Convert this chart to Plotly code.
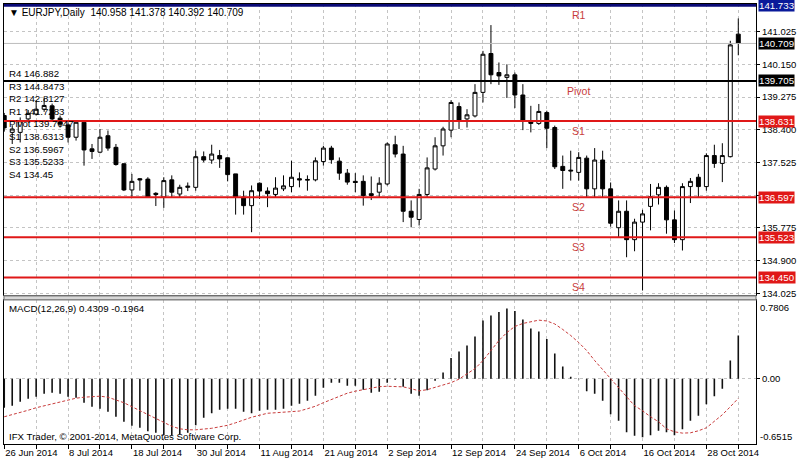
import plotly.graph_objects as go
import pandas as pd

# ---------------- data ----------------
dates = pd.bdate_range("2014-06-26", "2014-11-03")
date_keys = [d.strftime("%Y-%m-%d") for d in dates]

opens = [138.78, 138.33, 138.33, 138.69, 138.82, 138.95, 139.04, 138.71, 138.53, 138.20,
         138.60, 137.89, 137.80, 138.24, 137.93, 137.49, 136.79, 137.09, 137.08, 136.70,
         136.60, 137.06, 136.68, 136.86, 136.86, 137.68, 137.59, 137.71, 137.65, 137.22,
         136.60, 136.37, 136.97, 136.76, 136.67, 136.82, 136.88, 137.09, 137.05, 137.06,
         137.55, 137.91, 137.56, 137.24, 137.02, 137.02, 136.69, 136.73, 136.95, 138.00,
         137.75, 136.22, 136.00, 136.67, 137.35, 137.97, 138.39, 139.02, 138.69, 138.77,
         139.40, 140.44, 139.93, 139.80, 139.87, 139.33, 138.64, 138.57, 138.86, 138.46,
         137.42, 137.32, 137.26, 137.64, 136.82, 137.59, 136.82, 135.78, 136.22, 135.46,
         135.93, 136.35, 136.66, 136.86, 135.99, 135.46, 136.88, 137.13, 136.88, 137.71,
         137.50, 137.68, 140.958]
highs = [138.85, 138.52, 138.73, 138.93, 139.18, 139.25, 139.10, 138.78, 138.60, 138.66,
         138.62, 138.02, 138.42, 138.38, 138.02, 137.50, 137.22, 137.11, 137.13, 136.73,
         137.13, 137.18, 136.93, 136.99, 137.84, 137.82, 138.00, 137.86, 137.66, 137.22,
         136.77, 136.91, 136.99, 136.86, 137.13, 137.18, 137.57, 137.26, 137.18, 137.66,
         137.97, 137.97, 137.66, 137.35, 137.24, 137.18, 137.15, 137.13, 138.06, 138.24,
         137.97, 136.51, 136.82, 137.66, 138.20, 138.48, 139.19, 139.13, 138.95, 139.62,
         140.51, 141.20, 140.20, 140.15, 139.93, 139.62, 139.04, 139.09, 138.91, 138.51,
         137.71, 137.84, 137.80, 137.71, 137.91, 137.84, 136.99, 136.51, 136.51, 136.02,
         136.26, 136.95, 136.97, 136.91, 136.24, 136.97, 137.11, 137.22, 137.77, 138.00,
         138.04, 140.78, 141.378]
lows = [138.35, 138.02, 138.06, 138.60, 138.78, 138.88, 138.64, 138.46, 138.06, 138.11,
        137.44, 137.62, 137.77, 137.84, 137.44, 136.76, 136.61, 136.77, 136.58, 136.36,
        136.31, 136.60, 136.60, 136.76, 136.77, 137.53, 137.49, 137.38, 137.02, 136.13,
        136.13, 135.66, 136.55, 136.33, 136.60, 136.76, 136.73, 136.86, 136.77, 137.02,
        137.44, 137.49, 137.06, 136.93, 136.73, 136.37, 136.52, 136.60, 136.91, 137.66,
        135.93, 135.79, 135.84, 136.60, 137.31, 137.71, 138.20, 138.42, 138.46, 138.73,
        139.13, 139.62, 139.60, 139.25, 138.98, 138.39, 138.33, 138.53, 137.91, 137.35,
        136.82, 137.04, 137.04, 136.58, 136.60, 136.60, 135.81, 135.51, 134.99, 135.15,
        134.10, 135.71, 136.40, 135.62, 135.37, 135.17, 136.44, 136.58, 136.77, 137.38,
        137.00, 137.66, 140.392]
closes = [138.45, 138.42, 138.64, 138.84, 138.95, 139.05, 138.69, 138.55, 138.20, 138.60,
          137.86, 137.82, 138.20, 137.91, 137.47, 136.79, 137.02, 137.06, 136.60, 136.67,
          137.04, 136.73, 136.86, 136.89, 137.68, 137.59, 137.75, 137.62, 137.20, 136.60,
          136.37, 136.77, 136.76, 136.69, 136.84, 136.90, 137.13, 137.06, 137.07, 137.57,
          137.91, 137.60, 137.24, 137.00, 136.99, 136.64, 136.64, 136.97, 138.02, 137.75,
          136.22, 136.06, 136.67, 137.38, 137.97, 138.42, 139.13, 138.64, 138.80, 139.40,
          140.42, 139.87, 139.84, 139.87, 139.33, 138.66, 138.57, 138.89, 138.44, 137.41,
          137.31, 137.30, 137.66, 136.82, 137.59, 136.82, 135.90, 136.22, 135.46, 135.93,
          136.15, 136.61, 136.86, 135.99, 135.46, 136.88, 137.02, 136.88, 137.71, 137.50,
          137.71, 140.67, 140.709]

macd = [-0.29, -0.27, -0.23, -0.20, -0.18, -0.15, -0.14, -0.15, -0.18, -0.19,
        -0.24, -0.28, -0.30, -0.33, -0.38, -0.43, -0.47, -0.49, -0.525, -0.54,
        -0.565, -0.565, -0.555, -0.54, -0.465, -0.39, -0.345, -0.31, -0.30, -0.30,
        -0.33, -0.345, -0.32, -0.31, -0.31, -0.30, -0.27, -0.25, -0.22, -0.17,
        -0.09, -0.04, -0.04, -0.07, -0.07, -0.11, -0.14, -0.13, -0.04, -0.01,
        -0.08, -0.15, -0.17, -0.115, -0.02, 0.06, 0.205, 0.27, 0.33, 0.42,
        0.58, 0.63, 0.665, 0.70, 0.675, 0.59, 0.50, 0.47, 0.395, 0.25,
        0.12, 0.02, -0.005, -0.125, -0.15, -0.22, -0.355, -0.42, -0.535, -0.57,
        -0.585, -0.565, -0.52, -0.535, -0.565, -0.505, -0.42, -0.37, -0.255, -0.175,
        -0.10, 0.18, 0.4309]
signal = [-0.38, -0.36, -0.34, -0.315, -0.29, -0.27, -0.25, -0.23, -0.21, -0.195,
          -0.185, -0.178, -0.175, -0.185, -0.21, -0.24, -0.28, -0.32, -0.36, -0.40,
          -0.44, -0.475, -0.50, -0.51, -0.51, -0.505, -0.495, -0.48, -0.465, -0.44,
          -0.41, -0.385, -0.365, -0.345, -0.34, -0.333, -0.33, -0.323, -0.30, -0.275,
          -0.24, -0.21, -0.18, -0.145, -0.125, -0.11, -0.095, -0.08, -0.076, -0.078,
          -0.082, -0.10, -0.122, -0.11, -0.085, -0.065, -0.04, -0.005, 0.05, 0.10,
          0.18, 0.28, 0.38, 0.46, 0.52, 0.55, 0.57, 0.583, 0.575, 0.545,
          0.49, 0.43, 0.36, 0.28, 0.18, 0.09, -0.01, -0.10, -0.19, -0.27,
          -0.32, -0.38, -0.43, -0.50, -0.53, -0.543, -0.54, -0.52, -0.49, -0.425,
          -0.36, -0.28, -0.1964]

pivot_names = ["R4", "R3", "R2", "R1", "Pivot", "S1", "S2", "S3", "S4"]
pivot_values = [146.882, 144.8473, 142.8127, 141.7283, 139.7047, 138.6313, 136.5967, 135.5233, 134.45]
price_ticks = [134.025, 134.900, 135.775, 136.650, 137.525, 138.400, 139.275, 140.150, 141.025]
top_level = 141.733
macd_scale = [-0.6515, 0.7806]
symbol_title = "EURJPY,Daily"
macd_title = "MACD(12,26,9)"
footer = "IFX Trader, \u00a9 2001-2014, MetaQuotes Software Corp."

# ---------------- layout helpers ----------------
W, H = 799, 464
TOP, BOT = 3, 444
def yp(pix):
    return (BOT - pix) / (BOT - TOP)

FONT = "Liberation Sans, Arial, sans-serif"
RED = "#e01818"
LBL = "#c83c3c"

fig = go.Figure()

fig.add_trace(go.Candlestick(
    x=date_keys, open=opens, high=highs, low=lows, close=closes,
    increasing=dict(line=dict(color="black", width=1), fillcolor="white"),
    decreasing=dict(line=dict(color="black", width=1), fillcolor="black"),
    whiskerwidth=0, xaxis="x", yaxis="y", hoverinfo="skip"))

fig.add_trace(go.Bar(x=date_keys, y=macd, width=0.2, marker=dict(color="#111111", line=dict(width=0)),
                     xaxis="x2", yaxis="y2", hoverinfo="skip"))
fig.add_trace(go.Scatter(x=date_keys, y=signal, mode="lines",
                         line=dict(color="#c83c3c", width=1, dash="3px,2px"),
                         xaxis="x2", yaxis="y2", hoverinfo="skip"))

xr = [-0.03, 94.22]
tickv = date_keys[::4]
tickt = [(f"{dates[i].day} {dates[i].strftime('%b %Y')}" if i % 8 == 0 else "")
         for i in range(0, len(dates), 4)]

common_x = dict(type="category", range=xr, showgrid=True, gridcolor="#c4c4c4", griddash="3px,3px",
                gridwidth=1, showline=True, linecolor="black", linewidth=1, mirror=True, zeroline=False,
                tickvals=tickv, fixedrange=True)

fig.update_layout(
    width=W, height=H, margin=dict(l=3, r=42, t=TOP, b=H - BOT),
    paper_bgcolor="white", plot_bgcolor="white", showlegend=False,
    font=dict(family=FONT, size=9, color="black"),
    xaxis=dict(**common_x, anchor="y", showticklabels=False, ticks="",
               rangeslider=dict(visible=False)),
    xaxis2=dict(**common_x, anchor="y2", matches="x", ticktext=tickt, ticks="outside", ticklen=4,
                tickcolor="black", ticklabelposition="outside right",
                tickfont=dict(family=FONT, size=9.5, color="black")),
    yaxis=dict(domain=[yp(295), 1], range=[133.971, 141.764], side="right",
               tickvals=price_ticks,
               ticktext=[("" if abs(v - 136.650) < 1e-6 else f"{v:.3f}") for v in price_ticks],
               showgrid=True, gridcolor="#c4c4c4", griddash="3px,3px", zeroline=False,
               showline=True, linecolor="black", mirror=True, ticks="outside", ticklen=3,
               tickcolor="black", tickfont=dict(family=FONT, size=9.5, color="black")),
    yaxis2=dict(domain=[0, yp(300)], range=macd_scale, side="right", tickvals=[0],
                ticktext=["0.00"], showgrid=True, gridcolor="#c4c4c4", griddash="3px,3px",
                zeroline=False, showline=True, linecolor="black", mirror=True, ticks="outside",
                ticklen=3, tickcolor="black", tickfont=dict(family=FONT, size=9.5, color="black")),
)

shapes = []
def hline(y, color, width):
    shapes.append(dict(type="line", xref="x domain", yref="y", x0=0, x1=1, y0=y, y1=y,
                       line=dict(color=color, width=width)))

hline(closes[-1], "#bdbdbd", 1)
hline(pivot_values[4], "black", 2)
for v in pivot_values[5:]:
    hline(v, RED, 2)
hline(top_level, "#0a0a78", 3)

# panel separator
shapes.append(dict(type="rect", xref="paper", yref="paper", x0=0, x1=1, y0=yp(299.5), y1=yp(295.5),
                   fillcolor="#d8d8d8", line=dict(color="#808080", width=1.2)))
fig.update_layout(shapes=shapes)

ann = []
ann.append(dict(xref="x domain", yref="y domain", x=0, y=1, xanchor="left", yanchor="top",
                xshift=3, yshift=-1, showarrow=False,
                text=f"\u25bc {symbol_title}  {opens[-1]:.3f} {highs[-1]:.3f} {lows[-1]:.3f} {closes[-1]:.3f}",
                font=dict(family=FONT, size=10, color="black")))

# pivot text block
block = "<br>".join(f"{n} {v}" for n, v in zip(pivot_names, pivot_values))
ann.append(dict(xref="paper", yref="paper", x=0, y=yp(65.5), xanchor="left", yanchor="top",
                xshift=3, showarrow=False, align="left", text=block,
                font=dict(family=FONT, size=9.7, color="black")))

# level names on chart
mid = date_keys[72]
ann.append(dict(xref="x", yref="y", x=mid, y=top_level, yanchor="top", yshift=-2, showarrow=False,
                text=pivot_names[3], font=dict(family=FONT, size=10.5, color=LBL)))
for n, v in zip(pivot_names[4:], pivot_values[4:]):
    ann.append(dict(xref="x", yref="y", x=mid, y=v, yanchor="top", yshift=-2, showarrow=False,
                    text=n, font=dict(family=FONT, size=10.5, color=LBL)))

# right price tags
def tag(v, txt, bg):
    ann.append(dict(xref="x domain", yref="y", x=1, y=v, xanchor="left", yanchor="middle", xshift=2,
                    showarrow=False, text=txt, bgcolor=bg, borderpad=0,
                    font=dict(family=FONT, size=9.7, color="white")))

tag(top_level, f"{top_level:.3f}", "#0a1a9a")
tag(closes[-1], f"{closes[-1]:.3f}", "black")
tag(pivot_values[4], f"{pivot_values[4]:.3f}", "black")
for v in pivot_values[5:]:
    tag(v, f"{v:.3f}", RED)

# MACD panel texts
ann.append(dict(xref="paper", yref="paper", x=0, y=yp(301), xanchor="left", yanchor="top", xshift=3,
                showarrow=False, text=f"{macd_title} {macd[-1]:.4f} {signal[-1]:.4f}",
                font=dict(family=FONT, size=9.7, color="black")))
ann.append(dict(xref="paper", yref="paper", x=0, y=0, xanchor="left", yanchor="bottom", xshift=3,
                yshift=0, showarrow=False, text=footer, font=dict(family=FONT, size=9.7, color="black")))
ann.append(dict(xref="x2 domain", yref="y2", x=1, y=macd_scale[1], xanchor="left", yanchor="top",
                xshift=2, showarrow=False, text=f"{macd_scale[1]:.4f}",
                font=dict(family=FONT, size=9.5, color="black")))
ann.append(dict(xref="x2 domain", yref="y2", x=1, y=macd_scale[0], xanchor="left", yanchor="bottom",
                xshift=2, showarrow=False, text=f"{macd_scale[0]:.4f}",
                font=dict(family=FONT, size=9.5, color="black")))

fig.update_layout(annotations=ann)
fig.write_html("out.html", config={"displayModeBar": False, "staticPlot": True},
               post_script="document.body.style.margin='0px';document.body.style.padding='0px';")
